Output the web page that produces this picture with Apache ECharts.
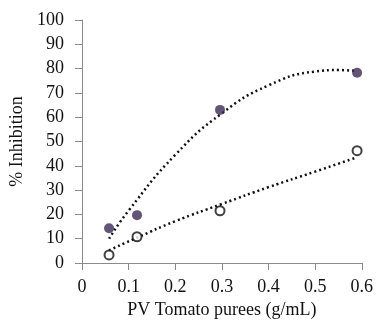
<!DOCTYPE html>
<html>
<head>
<meta charset="utf-8">
<script src="https://cdn.jsdelivr.net/npm/echarts@6/dist/echarts.min.js"></script>
<style>html,body{margin:0;padding:0;background:#fff;}#c{width:376px;height:325px;}</style>
</head>
<body>
<div id="c"></div>
<script>
var xTicks = [0, 0.1, 0.2, 0.3, 0.4, 0.5, 0.6];
var yTicks = [0, 10, 20, 30, 40, 50, 60, 70, 80, 90, 100];
var filledX = [0.058, 0.118, 0.296, 0.59];
var filledY = [14.3, 19.7, 63, 78.3];
var openX = [0.058, 0.118, 0.296, 0.59];
var openY = [3.3, 10.8, 21.5, 46.2];
var trendFilledX = [0.058, 0.1, 0.2, 0.3, 0.4, 0.5, 0.55, 0.59];
var trendFilledY = [10.0, 21.6, 44.5, 61.6, 73.1, 78.8, 79.4, 79.0];
var trendOpenX = [0.058, 0.12, 0.2, 0.3, 0.4, 0.5, 0.59];
var trendOpenY = [5.2, 10.6, 17.2, 24.3, 31.2, 37.6, 43.5];

function pairs(xs, ys) { return xs.map(function (x, i) { return [x, ys[i]]; }); }

var font = 'Liberation Serif';
var axisColor = '#8a8a8a';
var textColor = '#111';
var chart = echarts.init(document.getElementById('c'));
chart.setOption({
  animation: false,
  grid: { left: 82, right: 12, top: 20, bottom: 62 },
  xAxis: {
    type: 'value', min: 0, max: 0.6, interval: 0.1,
    name: 'PV Tomato purees (g/mL)', nameLocation: 'middle', nameGap: 38,
    nameTextStyle: { fontFamily: font, fontSize: 18, color: textColor },
    axisLine: { show: true, lineStyle: { color: axisColor, width: 1 } },
    axisTick: { show: true, length: 7, lineStyle: { color: axisColor } },
    axisLabel: { fontFamily: font, fontSize: 18, color: textColor, margin: 15,
      formatter: function (v) { return String(Math.round(v * 10) / 10); } },
    splitLine: { show: false }
  },
  yAxis: {
    type: 'value', min: 0, max: 100, interval: 10,
    name: '% Inhibition', nameLocation: 'middle', nameGap: 55,
    nameTextStyle: { fontFamily: font, fontSize: 18, color: textColor },
    axisLine: { show: true, lineStyle: { color: axisColor, width: 1 } },
    axisTick: { show: true, length: 7, lineStyle: { color: axisColor } },
    axisLabel: { fontFamily: font, fontSize: 18, color: textColor, margin: 18 },
    splitLine: { show: false }
  },
  series: [
    { type: 'line', data: pairs(trendFilledX, trendFilledY), smooth: true, symbol: 'none',
      lineStyle: { color: '#111', width: 2.5, type: [2, 3] }, z: 2 },
    { type: 'line', data: pairs(trendOpenX, trendOpenY), smooth: true, symbol: 'none',
      lineStyle: { color: '#111', width: 2.5, type: [2, 3] }, z: 2 },
    { type: 'scatter', data: pairs(filledX, filledY), symbol: 'circle', symbolSize: 10,
      itemStyle: { color: '#3b2a55' }, z: 3 },
    { type: 'scatter', data: pairs(openX, openY), symbol: 'circle', symbolSize: 9,
      itemStyle: { color: '#fff', borderColor: '#111', borderWidth: 2 }, z: 3 }
  ]
});
</script>
</body>
</html>
